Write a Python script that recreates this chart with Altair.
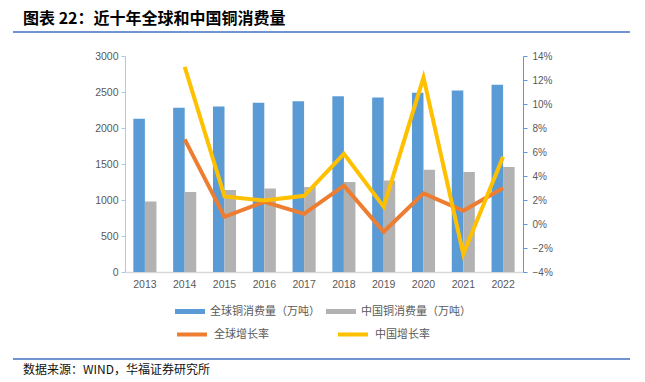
import altair as alt
import pandas as pd

# ---- data ----
years = ["2013", "2014", "2015", "2016", "2017", "2018", "2019", "2020", "2021", "2022"]
world_cons = [2130, 2280, 2300, 2350, 2370, 2440, 2425, 2490, 2520, 2600]
china_cons = [980, 1110, 1140, 1160, 1180, 1250, 1270, 1420, 1390, 1460]
rate_years = ["2014", "2015", "2016", "2017", "2018", "2019", "2020", "2021", "2022"]
world_rate = [7.05, 0.6, 1.85, 0.85, 3.2, -0.65, 2.55, 1.1, 3.0]
china_rate = [13.1, 2.3, 1.95, 2.35, 5.85, 1.45, 12.2, -2.5, 5.6]

bar_series = ["全球铜消费量（万吨）", "中国铜消费量（万吨）"]
line_series = ["全球增长率", "中国增长率"]
left_ticks = [0, 500, 1000, 1500, 2000, 2500, 3000]
right_ticks = [-4, -2, 0, 2, 4, 6, 8, 10, 12, 14]
title_text = "图表 22：近十年全球和中国铜消费量"
source_text = "数据来源：WIND，华福证券研究所"

BLUE = "#5B9BD5"
GRAY = "#B2B2B2"
ORANGE = "#ED7D31"
YELLOW = "#FFC000"
LBL = "#595959"
NUMFONT = "Liberation Sans"
CJK = "Noto Sans CJK SC"

bar_df = pd.DataFrame({
    "year": years * 2,
    "series": [bar_series[0]] * len(years) + [bar_series[1]] * len(years),
    "value": world_cons + china_cons,
})
line_df = pd.DataFrame({
    "year": rate_years * 2,
    "series": [line_series[0]] * len(rate_years) + [line_series[1]] * len(rate_years),
    "rate": world_rate + china_rate,
})

x_enc = alt.X(
    "year:O",
    scale=alt.Scale(domain=years, paddingInner=0.42, paddingOuter=0.21),
    axis=alt.Axis(title=None, labelAngle=0, domainColor="#D9D9D9", domainWidth=1.5,
                  ticks=False, labelPadding=7, labelFontSize=10.5, labelColor=LBL,
                  labelFont=NUMFONT),
)

bars = alt.Chart(bar_df).mark_bar().encode(
    x=x_enc,
    xOffset=alt.XOffset("series:N", scale=alt.Scale(domain=bar_series, paddingInner=0)),
    y=alt.Y("value:Q", scale=alt.Scale(domain=[0, 3000], nice=False),
            axis=alt.Axis(title=None, values=left_ticks, format="d", grid=False,
                          domainColor="#A9C8EA", tickColor="#A9C8EA", tickSize=4,
                          labelPadding=3, labelFontSize=10.5, labelColor=LBL,
                          labelFont=NUMFONT)),
    fill=alt.Fill("series:N",
                  scale=alt.Scale(domain=bar_series, range=[BLUE, GRAY]),
                  legend=alt.Legend(title=None, orient="none", legendX=50, legendY=240.5,
                                    direction="horizontal",
                                    symbolType="M-1,-0.1667H1V0.1667H-1Z", symbolSize=900,
                                    symbolStrokeWidth=0, labelFont=CJK, labelFontSize=11,
                                    labelColor=LBL, labelOffset=5, columnPadding=6,
                                    padding=0, labelLimit=300)),
)

line_y_enc = alt.Y("rate:Q", scale=alt.Scale(domain=[-4, 14], nice=False),
                   axis=alt.Axis(title=None, orient="right", values=right_ticks,
                                 labelExpr="format(datum.value, 'd') + '%'", grid=False,
                                 domainColor=BLUE, tickColor=BLUE, tickSize=4,
                                 labelPadding=5, labelFontSize=10, labelColor=LBL,
                                 labelFont=NUMFONT))
stroke_enc = alt.Stroke("series:N",
                        scale=alt.Scale(domain=line_series, range=[ORANGE, YELLOW]),
                        legend=alt.Legend(title=None, orient="none", legendX=50, legendY=261.5,
                                          direction="horizontal", symbolType="stroke",
                                          symbolSize=900, symbolStrokeWidth=4,
                                          labelFont=CJK, labelFontSize=11, labelColor=LBL,
                                          labelOffset=5, columnPadding=61, padding=0,
                                          labelLimit=300))

line_world = alt.Chart(line_df).transform_filter(
    alt.datum.series == line_series[0]
).mark_line(strokeWidth=4).encode(x=alt.X("year:O"), y=line_y_enc, stroke=stroke_enc)
line_china = alt.Chart(line_df).transform_filter(
    alt.datum.series == line_series[1]
).mark_line(strokeWidth=4).encode(x=alt.X("year:O"), y=line_y_enc, stroke=stroke_enc)
lines = alt.layer(line_world, line_china)

title_mark = alt.Chart(pd.DataFrame({"t": [title_text]})).mark_text(
    align="left", baseline="middle", font=CJK, fontSize=16, fontWeight="bold", color="#000000"
).encode(text="t:N", x=alt.value(-102), y=alt.value(-37.5))

source_mark = alt.Chart(pd.DataFrame({"t": [source_text]})).mark_text(
    align="left", baseline="middle", font=CJK, fontSize=12, color="#111111"
).encode(text="t:N", x=alt.value(-102), y=alt.value(314))

top_rule = alt.Chart(pd.DataFrame({"a": [0]})).mark_rule(
    color="#6F94CF", strokeWidth=2
).encode(x=alt.value(-112), x2=alt.value(505), y=alt.value(-24))

bottom_rule = alt.Chart(pd.DataFrame({"a": [0]})).mark_rule(
    color="#6F94CF", strokeWidth=2
).encode(x=alt.value(-112), x2=alt.value(505), y=alt.value(303))

chart = alt.layer(bars, lines, title_mark, source_mark, top_rule, bottom_rule).resolve_scale(
    y="independent"
).properties(
    width=398,
    height=216,
    autosize=alt.AutoSizeParams(type="none"),
    padding={"left": 117, "top": 48, "right": 110, "bottom": 104},
    background="white",
).configure_view(stroke=None)

chart.save("out.html", embed_options={"renderer": "svg", "actions": False})
